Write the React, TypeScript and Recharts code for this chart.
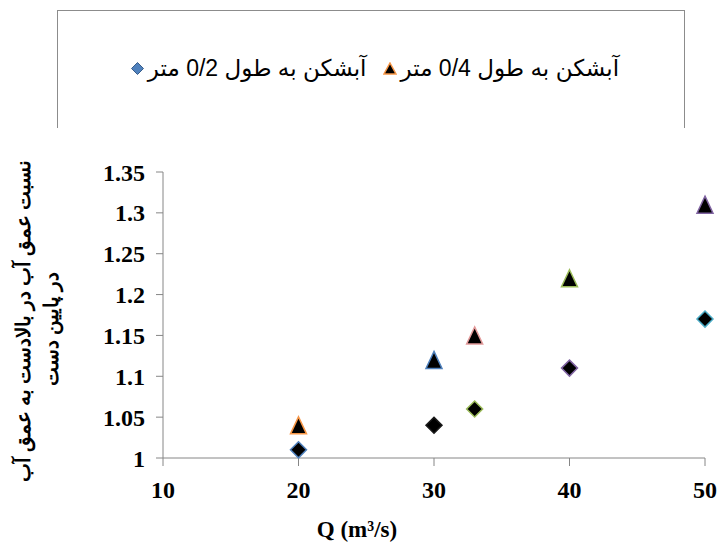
import React from 'react';
import { ScatterChart, Scatter, XAxis, YAxis, Legend } from 'recharts';

// ---- data ----
const qValues = [20, 30, 33, 40, 50];
const ratioSpur02 = [1.01, 1.04, 1.06, 1.11, 1.17];
const ratioSpur04 = [1.04, 1.12, 1.15, 1.22, 1.31];
const xTicks = [10, 20, 30, 40, 50];
const yTicks = [1, 1.05, 1.1, 1.15, 1.2, 1.25, 1.3, 1.35];
const seriesNames = ['آبشکن به طول 0/2 متر', 'آبشکن به طول 0/4 متر'];
const yTitleLines = ['نسبت عمق آب در بالادست به عمق آب', 'در پایین دست'];
const xTitle = 'Q (m³/s)';

// ---- styles ----
const outline02 = ['#4F81BD', '#1a1a1a', '#9BBB59', '#8064A2', '#4BACC6'];
const outline04 = ['#F79646', '#4F81BD', '#E39A9A', '#9BBB59', '#8064A2'];
const axisColor = '#868686';
const serif = '"Liberation Serif", "Times New Roman", serif';
const sans = '"Liberation Sans", Arial, "DejaVu Sans", sans-serif';

const data02 = qValues.map((q, i) => ({ q, r: ratioSpur02[i], idx: i }));
const data04 = qValues.map((q, i) => ({ q, r: ratioSpur04[i], idx: i }));

const DiamondShape = (props: any) => {
  const { cx, cy, payload } = props;
  const s = 8;
  const c = outline02[payload.idx];
  return (
    <polygon
      points={`${cx},${cy - s} ${cx + s},${cy} ${cx},${cy + s} ${cx - s},${cy}`}
      fill="#000"
      stroke={c}
      strokeWidth={1.5}
    />
  );
};

const TriangleShape = (props: any) => {
  const { cx, cy, payload } = props;
  const w = 8;
  const h = 8.5;
  const c = outline04[payload.idx];
  return (
    <polygon
      points={`${cx},${cy - h} ${cx + w},${cy + h} ${cx - w},${cy + h}`}
      fill="#000"
      stroke={c}
      strokeWidth={1.5}
    />
  );
};

const LegendBox = () => (
  <div
    style={{
      width: 628,
      height: 118,
      boxSizing: 'border-box',
      borderTop: '1px solid #8c8c8c',
      borderLeft: '1px solid #8c8c8c',
      borderRight: '1px solid #8c8c8c',
      display: 'flex',
      alignItems: 'center',
      justifyContent: 'center',
      fontFamily: sans,
      fontSize: 23,
      color: '#000',
      paddingLeft: 8,
      paddingBottom: 2,
    }}
  >
    <span style={{ display: 'flex', alignItems: 'center' }}>
      <svg width={13} height={13} style={{ marginRight: 4 }}>
        <polygon points="6.5,0.5 12.5,6.5 6.5,12.5 0.5,6.5" fill="#4F81BD" stroke="#385D8A" strokeWidth={1} />
      </svg>
      <span dir="rtl">{seriesNames[0]}</span>
    </span>
    <span style={{ display: 'flex', alignItems: 'center', marginLeft: 16 }}>
      <svg width={14} height={13} style={{ marginRight: 4 }}>
        <polygon points="7,1 13,12 1,12" fill="#000" stroke="#F79646" strokeWidth={1.5} />
      </svg>
      <span dir="rtl">{seriesNames[1]}</span>
    </span>
  </div>
);

const YTitle = () => (
  <g>
    <text
      transform="translate(23, 321) rotate(-90)"
      textAnchor="middle"
      dominantBaseline="central"
      fontFamily={serif}
      fontWeight="bold"
      fontSize={20}
      fill="#000"
    >
      {yTitleLines[0]}
    </text>
    <text
      transform="translate(51, 329) rotate(-90)"
      textAnchor="middle"
      dominantBaseline="central"
      fontFamily={serif}
      fontWeight="bold"
      fontSize={20}
      fill="#000"
    >
      {yTitleLines[1]}
    </text>
  </g>
);

const XTitle = () => (
  <text
    x={357}
    y={529}
    textAnchor="middle"
    dominantBaseline="central"
    fontFamily={serif}
    fontWeight="bold"
    fontSize={23}
    fill="#000"
  >
    {xTitle}
  </text>
);

const tickStyle = { fill: '#000', fontSize: 24, fontWeight: 'bold', fontFamily: serif };

export default function App() {
  return (
    <div style={{ position: 'absolute', left: 0, top: 0, width: 719, height: 545, background: '#fff' }}>
      <ScatterChart width={719} height={545} margin={{ top: 172, right: 14, bottom: 0, left: 0 }}>
        <XAxis
          type="number"
          dataKey="q"
          domain={[10, 50]}
          ticks={xTicks}
          stroke={axisColor}
          tick={tickStyle}
          tickSize={8}
          tickMargin={15}
          height={87}
          label={() => <XTitle />}
        />
        <YAxis
          type="number"
          dataKey="r"
          domain={[1, 1.35]}
          ticks={yTicks}
          stroke={axisColor}
          tick={tickStyle}
          tickSize={7}
          tickMargin={11}
          width={163}
          label={() => <YTitle />}
        />
        <Legend
          layout="horizontal"
          verticalAlign="middle"
          align="center"
          content={() => <LegendBox />}
          wrapperStyle={{ position: 'absolute', left: 57, top: 10, width: 628, height: 118 }}
        />
        <Scatter name={seriesNames[0]} data={data02} shape={DiamondShape} isAnimationActive={false} />
        <Scatter name={seriesNames[1]} data={data04} shape={TriangleShape} isAnimationActive={false} />
      </ScatterChart>
    </div>
  );
}
